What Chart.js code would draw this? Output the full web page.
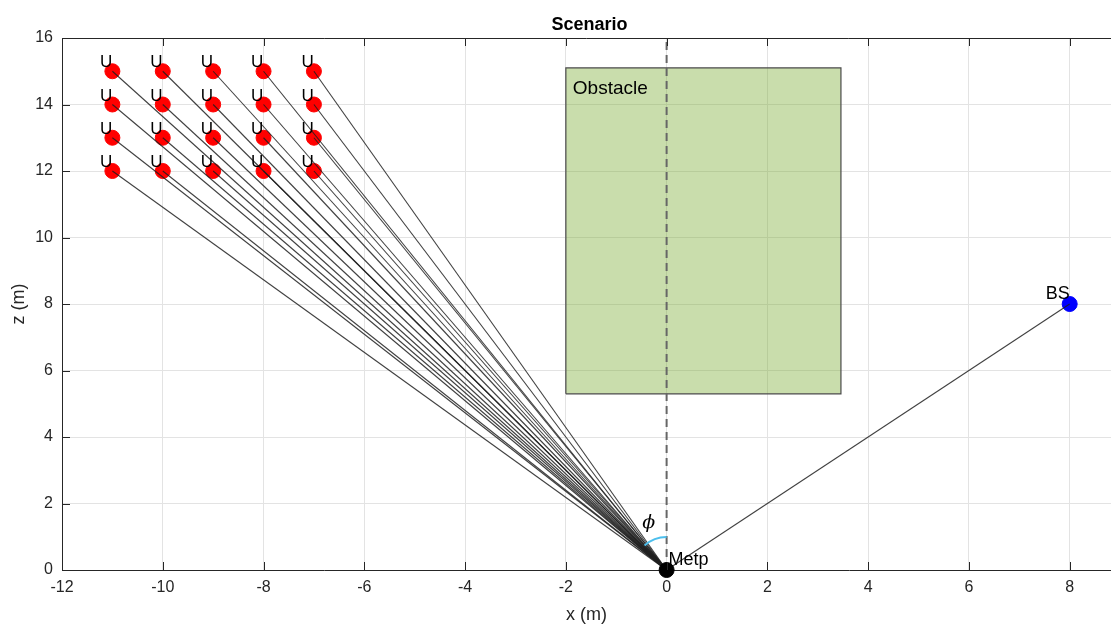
<!DOCTYPE html>
<html>
<head>
<meta charset="utf-8">
<title>Scenario</title>
<script src="https://cdn.jsdelivr.net/npm/chart.js@4.4.1/dist/chart.umd.min.js"></script>
<style>
  html, body { margin: 0; padding: 0; background: #ffffff; overflow: hidden; }
  canvas { display: block; }
</style>
</head>
<body>
<canvas id="myChart" width="1111" height="627"></canvas>
<script>
'use strict';

//========== Data ==========
let userX = [-11, -10, -9, -8, -7, -11, -10, -9, -8, -7, -11, -10, -9, -8, -7, -11, -10, -9, -8, -7];
let userZ = [15, 15, 15, 15, 15, 14, 14, 14, 14, 14, 13, 13, 13, 13, 13, 12, 12, 12, 12, 12];
let userLabel = 'U';
let bsX = 8;
let bsZ = 8;
let metpX = 0;
let metpZ = 0;
let obstacleX = [-2, 3.46];
let obstacleZ = [5.3, 15.1];
let xTicks = [-12, -10, -8, -6, -4, -2, 0, 2, 4, 6, 8];
let zTicks = [0, 2, 4, 6, 8, 10, 12, 14, 16];
let xRange = [-12, 8.82];
let zRange = [0, 16];
// point the phi arc opens toward (middle of the user bundle)
let phiTarget = [-8, 13.5];

//========== Styles ==========
let axisColor = '#262626';
let gridColor = '#e3e3e3';
let fontName = '"Liberation Sans", Arial, Helvetica, sans-serif';
let rayColor = 'rgba(30, 30, 30, 0.85)';

//========== Datasets ==========
// lower "order" is drawn on top
let datasets = [];

// obstacle fill (top edge filled down to bottom edge)
datasets.push({
  type: 'line',
  data: [{x: obstacleX[0], y: obstacleZ[1]}, {x: obstacleX[1], y: obstacleZ[1]}],
  fill: {value: obstacleZ[0]},
  backgroundColor: 'rgba(120, 171, 48, 0.4)',
  borderWidth: 0,
  pointRadius: 0,
  order: 6
});

// obstacle outline
datasets.push({
  type: 'line',
  data: [
    {x: obstacleX[0], y: obstacleZ[0]},
    {x: obstacleX[1], y: obstacleZ[0]},
    {x: obstacleX[1], y: obstacleZ[1]},
    {x: obstacleX[0], y: obstacleZ[1]},
    {x: obstacleX[0], y: obstacleZ[0]}
  ],
  borderColor: '#4a4a4a',
  borderWidth: 1.2,
  pointRadius: 0,
  fill: false,
  order: 5
});

// vertical dashed reference through Metp
datasets.push({
  type: 'line',
  data: [{x: metpX, y: zRange[0]}, {x: metpX, y: zRange[1]}],
  borderColor: '#666666',
  borderWidth: 2,
  borderDash: [8, 5],
  pointRadius: 0,
  fill: false,
  order: 4
});

let userPoints = [];
for (let i = 0; i < userX.length; i++) {
  userPoints.push({x: userX[i], y: userZ[i]});
}
datasets.push({
  data: userPoints,
  backgroundColor: '#ff0000',
  borderColor: '#ff0000',
  pointRadius: 7.5,
  clip: false,
  order: 3
});
datasets.push({
  data: [{x: bsX, y: bsZ}],
  backgroundColor: '#0000ff',
  borderColor: '#0000ff',
  pointRadius: 7.5,
  clip: false,
  order: 3
});

// lines user -> Metp
for (let i = 0; i < userX.length; i++) {
  datasets.push({
    type: 'line',
    data: [{x: userX[i], y: userZ[i]}, {x: metpX, y: metpZ}],
    borderColor: rayColor,
    borderWidth: 1.1,
    pointRadius: 0,
    fill: false,
    clip: false,
    order: 2
  });
}

// line BS -> Metp
datasets.push({
  type: 'line',
  data: [{x: bsX, y: bsZ}, {x: metpX, y: metpZ}],
  borderColor: rayColor,
  borderWidth: 1.1,
  pointRadius: 0,
  fill: false,
  clip: false,
  order: 2
});

datasets.push({
  data: [{x: metpX, y: metpZ}],
  backgroundColor: '#000000',
  borderColor: '#000000',
  pointRadius: 7.5,
  clip: false,
  order: 0
});

//========== Plugin: annotations ==========
let annotations = {
  id: 'annotations',
  afterDatasetsDraw(chart) {
    let ctx = chart.ctx;
    let xs = chart.scales.x;
    let ys = chart.scales.y;
    let area = chart.chartArea;
    ctx.save();

    // top border of the box
    ctx.strokeStyle = axisColor;
    ctx.lineWidth = 1;
    ctx.beginPath();
    ctx.moveTo(area.left, area.top + 0.5);
    ctx.lineTo(area.right, area.top + 0.5);
    ctx.stroke();

    // inside tick marks
    ctx.beginPath();
    for (let i = 0; i < xTicks.length; i++) {
      let px = Math.round(xs.getPixelForValue(xTicks[i])) + 0.5;
      ctx.moveTo(px, area.bottom);
      ctx.lineTo(px, area.bottom - 8);
      ctx.moveTo(px, area.top);
      ctx.lineTo(px, area.top + 8);
    }
    for (let i = 0; i < zTicks.length; i++) {
      let py = Math.round(ys.getPixelForValue(zTicks[i])) + 0.5;
      ctx.moveTo(area.left, py);
      ctx.lineTo(area.left + 8, py);
    }
    ctx.stroke();

    // phi arc
    let ox = xs.getPixelForValue(metpX);
    let oz = ys.getPixelForValue(metpZ);
    let tx = xs.getPixelForValue(phiTarget[0]);
    let tz = ys.getPixelForValue(phiTarget[1]);
    let endAng = Math.atan2(tz - oz, tx - ox);
    ctx.strokeStyle = '#4dbfed';
    ctx.lineWidth = 2;
    ctx.beginPath();
    ctx.arc(ox, oz, 33, endAng, -Math.PI / 2);
    ctx.stroke();

    ctx.fillStyle = '#000000';
    ctx.font = 'italic 19px "DejaVu Serif", serif';
    ctx.textAlign = 'center';
    ctx.textBaseline = 'middle';
    ctx.fillText('\u03D5', ox - 18, oz - 47);

    // user labels
    ctx.fillStyle = '#000000';
    ctx.font = '17px ' + fontName;
    ctx.textAlign = 'left';
    ctx.textBaseline = 'alphabetic';
    for (let i = 0; i < userX.length; i++) {
      let px = xs.getPixelForValue(userX[i]);
      let py = ys.getPixelForValue(userZ[i]);
      ctx.fillText(userLabel, px - 12.5, py - 4);
    }

    // BS label
    ctx.font = '18px ' + fontName;
    ctx.textAlign = 'right';
    ctx.fillText('BS', xs.getPixelForValue(bsX), ys.getPixelForValue(bsZ) - 5);

    // Metp label
    ctx.textAlign = 'left';
    ctx.fillText('Metp', ox + 2, oz - 5);

    // obstacle label
    ctx.font = '19px ' + fontName;
    ctx.fillText('Obstacle', xs.getPixelForValue(obstacleX[0]) + 7, ys.getPixelForValue(obstacleZ[1]) + 26);

    // title
    ctx.fillStyle = '#000000';
    ctx.font = 'bold 18px ' + fontName;
    ctx.textAlign = 'center';
    ctx.fillText('Scenario', (area.left + area.right) / 2 + 3, 30);

    ctx.restore();
  }
};

//========== Chart ==========
let ctx = document.getElementById('myChart').getContext('2d');

let myChartObj = {
  type: 'scatter',
  data: {datasets: datasets},
  plugins: [annotations],
  options: {
    responsive: false,
    animation: false,
    devicePixelRatio: 1,
    layout: {autoPadding: false, padding: {top: 38, right: 0, bottom: 0, left: 0}},
    plugins: {
      legend: {display: false},
      tooltip: {enabled: false}
    },
    scales: {
      x: {
        type: 'linear',
        min: xRange[0],
        max: xRange[1],
        afterBuildTicks: (scale) => { scale.ticks = xTicks.map(v => ({value: v})); },
        afterFit: (scale) => {
          scale.height = 57;
          scale.paddingLeft = 0;
          scale.paddingRight = 0;
        },
        grid: {color: gridColor, drawTicks: false},
        border: {color: axisColor, width: 1},
        ticks: {color: axisColor, font: {family: fontName, size: 16}, padding: 8, maxRotation: 0},
        title: {display: true, text: 'x (m)', color: axisColor, font: {family: fontName, size: 18}, padding: {top: 0, bottom: 1}}
      },
      y: {
        type: 'linear',
        min: zRange[0],
        max: zRange[1],
        afterBuildTicks: (scale) => { scale.ticks = zTicks.map(v => ({value: v})); },
        afterFit: (scale) => { scale.width = 62; },
        grid: {color: gridColor, drawTicks: false},
        border: {color: axisColor, width: 1},
        ticks: {color: axisColor, font: {family: fontName, size: 16}, padding: 9},
        title: {display: true, text: 'z (m)', color: axisColor, font: {family: fontName, size: 18}, padding: {top: 8, bottom: 0}}
      }
    }
  }
};

let myChart = new Chart(ctx, myChartObj);
</script>
</body>
</html>
